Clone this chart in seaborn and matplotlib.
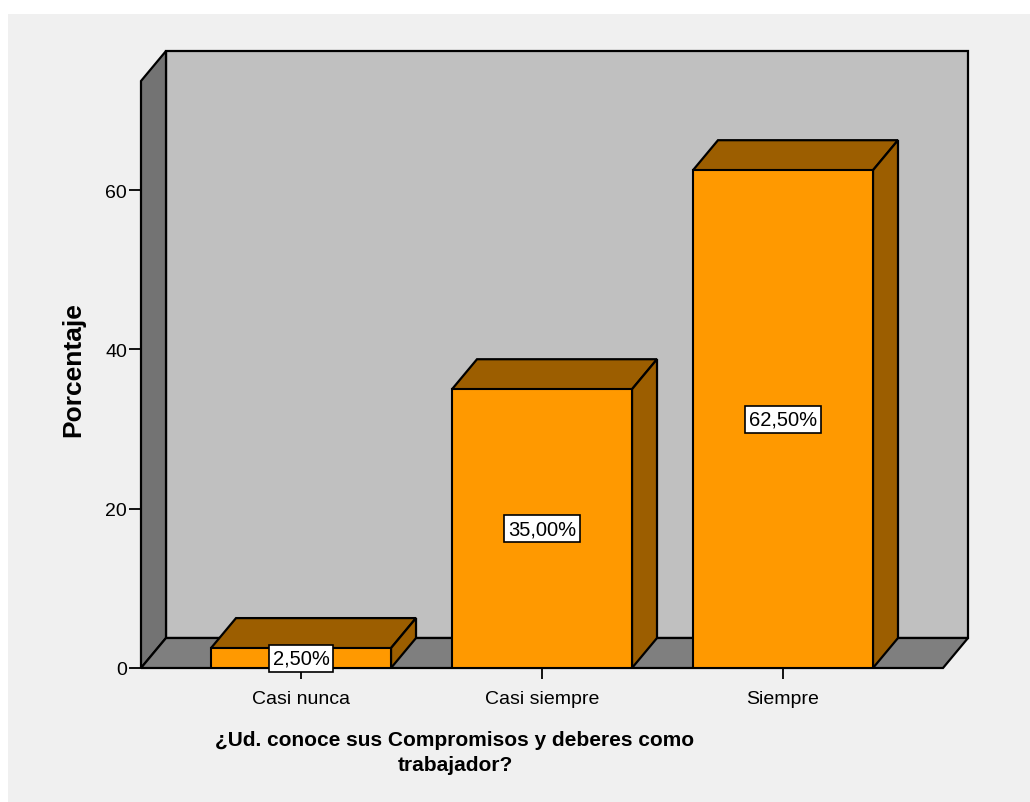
import matplotlib
matplotlib.use("Agg")
import matplotlib.pyplot as plt
import seaborn as sns
from matplotlib.patches import Polygon

categories = ["Casi nunca", "Casi siempre", "Siempre"]
percentages = [2.5, 35.0, 62.5]
y_ticks = [0, 20, 40, 60]

sns.set_theme(style="white")
plt.rcParams["font.family"] = ["Liberation Sans", "DejaVu Sans"]
plt.rcParams["text.color"] = "black"
plt.rcParams["xtick.color"] = "black"
plt.rcParams["ytick.color"] = "black"
plt.rcParams["xtick.labelcolor"] = "black"
plt.rcParams["ytick.labelcolor"] = "black"

front = "#ff9900"
dark = "#9c5e00"
wall = "#c0c0c0"
side = "#737373"
floor = "#7f7f7f"

fig = plt.figure(figsize=(10.3, 8.03), dpi=100, facecolor="white")
# light panel behind everything
fig.patches.append(plt.Rectangle((8 / 1030, 0), 1, (803 - 15) / 803,
                                 transform=fig.transFigure, facecolor="#f0f0f0",
                                 edgecolor="none", zorder=-10))

ax = fig.add_axes([141 / 1030, (803 - 669) / 803, 802 / 1030, 587 / 803])
sns.barplot(x=categories, y=percentages, color=front, saturation=1, width=0.747,
            edgecolor="black", linewidth=1.5, ax=ax, zorder=4)

xmin, xmax = -0.664, 2.664
ymin, ymax = 0, 73.7
ax.set_xlim(xmin, xmax)
ax.set_ylim(ymin, ymax)
ax.patch.set_visible(False)
for s in ax.spines.values():
    s.set_visible(False)

# depth offset (25 px right, 30 px up) in data units
ddx = 25 * (xmax - xmin) / 802
ddy = 30 * (ymax - ymin) / 587

def poly(pts, fc, z):
    ax.add_patch(Polygon(pts, closed=True, facecolor=fc, edgecolor="black",
                         linewidth=1.6, clip_on=False, zorder=z, joinstyle="miter"))

# back wall, side wall, floor
poly([(xmin + ddx, ddy), (xmax + ddx, ddy), (xmax + ddx, ymax + ddy), (xmin + ddx, ymax + ddy)], wall, 0)
poly([(xmin, 0), (xmin + ddx, ddy), (xmin + ddx, ymax + ddy), (xmin, ymax)], side, 1)
poly([(xmin, 0), (xmax, 0), (xmax + ddx, ddy), (xmin + ddx, ddy)], floor, 1)

# 3D faces of each bar
for bar, v in zip(ax.patches[:len(percentages)], percentages):
    x0 = bar.get_x()
    x1 = x0 + bar.get_width()
    h = bar.get_height()
    poly([(x0, h), (x1, h), (x1 + ddx, h + ddy), (x0 + ddx, h + ddy)], dark, 3)
    poly([(x1, 0), (x1 + ddx, ddy), (x1 + ddx, h + ddy), (x1, h)], dark, 3)
    ax.text(x0 + bar.get_width() / 2, h / 2, f"{v:.2f}".replace(".", ",") + "%",
            ha="center", va="center", fontsize=14.5, color="black", zorder=6,
            bbox=dict(boxstyle="square,pad=0.2", facecolor="white",
                      edgecolor="black", linewidth=1.2))

ax.set_yticks(y_ticks)
ax.set_yticklabels([str(t) for t in y_ticks])
ax.tick_params(axis="y", length=9, width=1.3, color="black", pad=1, labelsize=14,
               left=True, direction="out", labelcolor="black")
ax.tick_params(axis="x", length=8, width=1.3, color="black", pad=8, labelsize=14,
               bottom=True, direction="out", labelcolor="black")
ax.set_xlabel("")
ax.set_ylabel("")

fig.text(73 / 1030, 1 - 370 / 803, "Porcentaje", rotation=90, ha="center",
         va="center", fontsize=19, fontweight="bold", color="black")
fig.text(455 / 1030, 1 - 753 / 803, "¿Ud. conoce sus Compromisos y deberes como\ntrabajador?",
         ha="center", va="center", fontsize=15, fontweight="bold", linespacing=1.35,
         color="black")

fig.savefig("out.png", dpi=100, facecolor="white")
